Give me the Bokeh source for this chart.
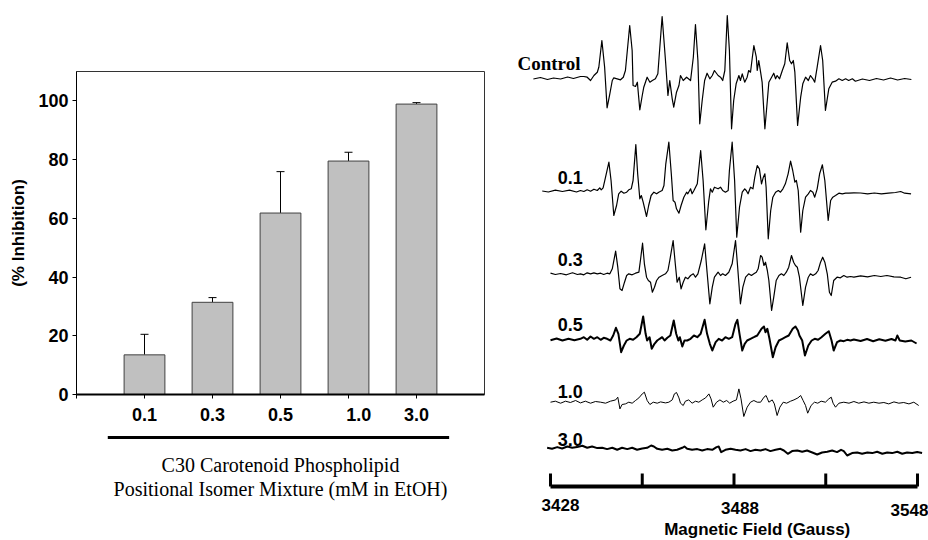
import numpy as np
from bokeh.plotting import figure
from bokeh.models import (ColumnDataSource, Range1d, FixedTicker, Whisker, TeeHead,
                          CustomJSTickFormatter)
from bokeh.layouts import row, column
from bokeh.core.properties import value
from bokeh.embed import file_html
from bokeh.resources import INLINE

# ---------------- data: bar chart ----------------
CONC_LABELS = ["0.1", "0.3", "0.5", "1.0", "3.0"]
INHIBITION = [13.5, 31.4, 61.8, 79.5, 98.9]
INHIBITION_SD = [7.0, 1.6, 14.1, 3.0, 0.5]
Y_TICKS = [0, 20, 40, 60, 80, 100]
X_TITLE = ["C30 Carotenoid Phospholipid", "Positional Isomer Mixture (mM in EtOH)"]

# ---------------- data: EPR spectra (field in Gauss, signal in arbitrary units) ----------------
SPEC_LABELS = ["Control", "0.1", "0.3", "0.5", "1.0", "3.0"]
FIELD_TICKS = [3428, 3458, 3488, 3518, 3548]
FIELD_TICK_LABELS = ["3428", "3488", "3548"]

CONTROL = [(3422.4,-0.5),(3424.7,1),(3427.0,-1),(3429.0,0.5),(3431.3,-0.5),(3433.6,1.5),(3435.5,0),
 (3437.8,2),(3438.9,2),(3440.0,1.3),(3441.1,-2),(3442.2,3),(3443.3,6.3),(3443.8,11.3),(3444.8,38),
 (3445.7,11.3),(3446.5,-29.3),(3447.4,-15.3),(3448.2,-2),(3448.7,0.7),(3449.8,-0.3),(3450.9,-1.3),
 (3451.8,1.3),(3452.5,8),(3453.9,53),(3454.7,28),(3455.0,-7),(3455.8,-8),(3456.4,-3.7),(3457.2,-31.3),
 (3458.0,-17),(3458.5,-8.7),(3459.6,1.3),(3460.5,-3.7),(3461.3,-2),(3462.3,-0.3),(3463.1,4.7),
 (3464.5,62),(3465.6,18),(3466.4,-17),(3467.0,-2),(3467.8,-20.3),(3468.3,-28.7),(3469.2,-13.7),
 (3470.0,-7),(3470.5,3),(3471.4,-2),(3472.5,1.3),(3473.8,-2),(3474.7,21.3),(3475.4,54),(3476.2,18),
 (3476.8,-45.3),(3477.6,-22),(3478.4,-2),(3479.2,5.3),(3480.1,-0.3),(3480.9,3),(3481.6,8),(3482.8,3),
 (3483.6,1.3),(3484.3,-2),(3485.0,8),(3485.8,63),(3486.5,28),(3487.2,-50.3),(3487.9,-22),(3488.7,-5.3),
 (3489.6,3),(3490.1,-2),(3490.7,4.7),(3491.5,-3.7),(3492.3,1.3),(3492.8,8),(3493.4,6.3),(3494.0,21.3),
 (3494.5,33),(3495.3,21.3),(3495.6,8),(3496.1,18),(3496.7,6.3),(3497.2,-3.7),(3498.1,-50.3),
 (3498.9,-22),(3499.4,-3.7),(3500.3,1.3),(3501.0,5.3),(3501.6,-0.3),(3502.1,3),(3502.9,-0.3),
 (3503.8,8),(3504.6,14.7),(3505.4,35.7),(3506.2,18),(3506.8,14.7),(3507.4,18),(3507.9,6.3),
 (3508.8,-47),(3509.8,-18.7),(3510.5,-5.3),(3511.4,1.3),(3512.3,-2),(3513.0,3),(3513.8,-0.3),
 (3514.4,-3.7),(3515.2,11.3),(3516.3,33),(3517.0,18),(3517.9,-32),(3519.0,-10.3),(3520.1,-3.7),
 (3521.2,-2.7),(3522.3,-0.3),(3523.4,-2),(3524.5,-0.3),(3525.5,-2),(3526.7,-0.3),(3527.7,-2.7),
 (3530.0,-0.5),(3532.3,-2),(3534.6,0),(3536.9,-1.5),(3539.2,0.5),(3541.5,-1.5),(3543.8,0),(3546.0,-1)]

SPEC_01 = [(3425.3,0.5),(3427.3,-0.5),(3429.6,1.3),(3431.9,0),(3434.2,1.3),(3436.5,-0.5),(3437.8,1),
 (3438.9,0),(3440.0,1.7),(3441.1,0.3),(3442.2,2.3),(3443.3,1),(3444.1,3.7),(3444.6,1.7),(3445.2,3.7),
 (3446.0,14.3),(3447.1,29.3),(3447.8,11),(3448.7,-24),(3449.6,-14),(3450.3,-2.3),(3451.1,0.3),
 (3452.0,-1.7),(3452.9,-0.7),(3453.6,1.7),(3454.4,2.7),(3455.0,11),(3455.9,47),(3456.5,17.7),
 (3457.2,-7.3),(3457.7,-4),(3458.3,-10.7),(3459.4,-25),(3460.1,-14),(3460.9,-4),(3461.8,-0.7),
 (3462.7,-2.3),(3463.4,-0.7),(3464.5,1),(3465.1,6),(3465.7,27.7),(3466.7,49.3),(3467.5,17.7),
 (3468.1,-9),(3468.7,-10.7),(3469.2,-17.3),(3470.0,-21.7),(3470.7,-14),(3471.6,-5.7),(3472.5,-0.7),
 (3472.9,-2.3),(3473.8,2.7),(3474.3,-2.3),(3474.9,1),(3476.0,7.7),(3477.1,41),(3477.9,11),
 (3478.8,-38.3),(3479.7,-10.7),(3480.3,2.7),(3480.9,-0.7),(3481.6,4.3),(3482.8,2.7),(3483.6,4.3),
 (3484.3,1),(3485.2,-0.7),(3486.1,1),(3486.5,21),(3487.4,49.3),(3488.2,11),(3488.9,-45.7),
 (3489.8,-15.7),(3490.7,-0.7),(3491.5,2.7),(3492.0,1),(3492.6,-2.3),(3493.4,4.3),(3494.2,2.7),
 (3494.8,14.3),(3495.6,26),(3496.3,22.7),(3497.0,7.7),(3497.6,14.3),(3498.1,17.7),(3498.5,4.3),
 (3499.2,-47.3),(3500.0,-19),(3500.7,-5.7),(3501.6,-0.7),(3502.5,1),(3503.2,-0.7),(3504.0,2.7),
 (3504.8,7.7),(3505.7,17.7),(3506.5,30.3),(3507.2,21),(3507.9,9.3),(3508.4,11),(3509.0,1),
 (3509.8,-40.7),(3510.5,-19),(3511.4,-5.7),(3512.3,-2.3),(3513.0,1),(3513.8,-0.7),(3514.4,-5.7),
 (3515.2,2.7),(3516.0,17.7),(3516.9,26.7),(3517.7,11),(3518.8,-29),(3519.6,-9),(3520.3,-5.7),
 (3521.2,-4),(3522.3,-1.7),(3523.4,-2.3),(3524.5,-1.7),(3525.5,-1.7),(3527.2,-1.3),(3529.4,-1.5),
 (3531.7,-2.3),(3533.9,-1.5),(3536.2,-2.3),(3538.5,-1.7),(3540.8,-1),(3542.5,0),(3543.8,-1.7),
 (3545.9,-2.3)]

SPEC_03 = [(3428.0,0.7),(3429.6,-0.7),(3431.3,0.3),(3433.2,-1),(3435.2,1),(3436.8,-0.7),(3437.8,0),
 (3438.9,-1),(3440.0,1),(3441.1,0),(3442.2,1),(3443.3,0),(3444.4,0.6),(3445.4,-0.7),(3446.5,0.6),
 (3447.4,0),(3448.2,5),(3449.3,22.6),(3450.0,6.6),(3450.7,-15),(3451.4,-16.7),(3452.2,-8.4),
 (3452.9,-1.7),(3453.6,0),(3454.7,-1),(3455.8,0.6),(3456.9,1.6),(3457.4,13.3),(3458.1,30.6),
 (3458.7,10),(3459.4,-3.4),(3460.0,-6.7),(3460.7,-8.4),(3461.3,-18.4),(3462.0,-13.4),(3462.7,-6.7),
 (3463.5,-3.4),(3464.5,-1.7),(3465.6,0),(3466.4,3.3),(3467.0,13.3),(3468.1,33.3),(3468.8,10),
 (3469.4,-8.4),(3470.1,-3.4),(3470.7,-15),(3471.4,-8.4),(3472.1,-3.4),(3472.9,-5),(3473.8,-1.7),
 (3474.7,0),(3475.4,-3.4),(3476.2,0),(3477.3,13.3),(3478.4,30),(3479.2,1.6),(3480.1,-30),
 (3480.9,-13.4),(3481.6,-3.4),(3482.8,1.6),(3483.6,-1.7),(3484.3,0),(3485.2,-1.7),(3486.3,1.6),
 (3487.4,10),(3488.5,33.3),(3489.2,6.6),(3490.1,-30),(3490.9,-13.4),(3491.8,-3.4),(3492.8,0),
 (3493.7,-1.7),(3494.5,0),(3495.3,1.6),(3495.9,5),(3496.7,18.3),(3497.2,16.6),(3497.8,8.3),
 (3498.3,11.6),(3498.9,3.3),(3499.4,-6.7),(3500.3,-36.7),(3501.0,-23.4),(3501.8,-6.7),(3502.7,-1.7),
 (3503.5,0),(3504.3,-1.7),(3505.1,1.6),(3505.9,6.6),(3506.8,18.3),(3507.5,11.6),(3508.1,8.3),
 (3508.7,6.6),(3509.4,-3.4),(3510.5,-31.7),(3511.4,-13.4),(3512.3,-3.4),(3513.0,0),(3513.8,-1.7),
 (3514.7,0),(3515.5,3.3),(3516.3,11.6),(3517.0,16.6),(3517.7,11.6),(3518.5,0),(3519.2,-18.4),
 (3519.8,-21.7),(3520.6,-6.7),(3521.7,-3.4),(3522.8,-4),(3523.9,-1.7),(3525.0,-3.4),(3526.1,-2.7),
 (3527.2,-3.4),(3529.4,-2),(3531.7,-3),(3533.9,-1.7),(3536.0,-2.7),(3538.0,-1.7),(3540.3,-3),
 (3542.5,-3.4),(3544.2,-5),(3545.9,-3.4)]

SPEC_05 = [(3428.0,-0.7),(3430.0,1),(3431.9,-1),(3433.9,0.7),(3435.8,-0.7),(3437.8,0.7),(3438.9,2.3),
 (3440.0,-0.3),(3441.1,3),(3442.2,0.7),(3443.3,2.3),(3444.4,-0.3),(3445.4,1.7),(3446.5,0.7),
 (3447.6,-1),(3448.5,4),(3449.4,11.7),(3450.2,5.7),(3451.1,-12.7),(3452.0,-6),(3452.9,-1),
 (3453.9,0.7),(3455.0,-0.3),(3456.1,2.3),(3457.2,5.7),(3458.3,23),(3459.1,5.7),(3459.6,-1),
 (3460.4,2.3),(3461.1,-9.3),(3462.0,-4.3),(3462.9,-1),(3463.7,0.7),(3464.5,2.3),(3465.3,-1),
 (3466.2,1.7),(3467.2,4),(3468.3,19),(3469.1,5.7),(3469.8,-1),(3470.3,2.3),(3471.1,-7),(3471.8,-1),
 (3472.7,-1),(3473.8,0.7),(3474.9,4),(3476.0,2.3),(3477.1,5.7),(3478.4,19.7),(3479.2,5.7),
 (3480.1,-4.3),(3480.9,-11),(3482.0,-2.7),(3483.0,0.7),(3484.1,-1),(3485.2,2.3),(3486.3,0.7),
 (3487.4,2.3),(3488.5,15.7),(3489.1,19.7),(3489.8,5.7),(3490.7,-11),(3491.5,-4.3),(3492.3,-1),
 (3493.4,0.7),(3494.5,2.3),(3495.6,4),(3497.0,10.7),(3497.8,13),(3498.3,7.3),(3498.9,10.7),
 (3499.6,0.7),(3500.7,-17.7),(3501.6,-7.7),(3502.7,-1),(3503.8,0.7),(3504.8,2.3),(3505.9,4),
 (3507.2,10.7),(3508.1,13),(3508.9,9),(3509.4,4),(3510.3,-1),(3511.2,-16),(3512.3,-6),(3513.4,-1),
 (3514.4,0.7),(3515.5,-0.3),(3516.6,2.3),(3517.9,5.7),(3519.0,8.3),(3519.9,-1),(3520.6,-11),
 (3521.7,-2.7),(3522.8,-1),(3523.9,-1.7),(3525.0,-0.3),(3526.1,-1),(3527.2,0),(3529.4,-1.5),
 (3531.5,0.5),(3533.5,-1.7),(3535.5,0.3),(3537.5,-1.3),(3539.5,0.5),(3540.8,-1),(3541.4,4),
 (3542.2,-1),(3544.0,-2),(3546.0,-1),(3547.7,-4)]

SPEC_10 = [(3428.0,0),(3429.6,1),(3431.3,-1),(3432.9,1),(3434.5,-0.3),(3436.2,1.7),(3437.8,-0.7),
 (3439.4,1),(3441.1,-1),(3442.7,0.7),(3444.4,0),(3446.0,-1),(3447.6,1),(3449.3,2.3),(3450.0,5),
 (3450.7,-6.7),(3451.4,-2.3),(3452.5,-1.7),(3453.6,0),(3454.7,-1),(3455.8,1.7),(3456.9,4.3),
 (3458.0,8.3),(3458.7,10),(3459.6,1.7),(3460.5,-2.3),(3461.6,0),(3462.9,-1),(3464.0,0.3),
 (3465.6,-0.7),(3466.7,0),(3467.8,2.3),(3468.5,8.3),(3469.2,9.7),(3470.0,4.3),(3470.5,-1),
 (3471.4,-3.3),(3472.1,1),(3473.2,2.3),(3474.3,-1),(3475.4,1),(3476.5,0),(3477.6,2.3),(3478.7,4.3),
 (3479.8,8.3),(3480.5,3.3),(3481.2,-5),(3482.3,0),(3483.4,2.3),(3484.5,0),(3485.6,1.7),(3486.6,-1),
 (3487.7,1),(3488.8,2.3),(3489.6,13.3),(3490.3,3.3),(3491.2,-14.3),(3492.3,-5),(3493.4,0),
 (3494.5,1.7),(3495.6,0),(3496.7,0),(3497.8,5),(3498.5,6.7),(3499.4,0),(3500.5,2.3),(3501.2,-1.7),
 (3502.1,-13.3),(3503.0,-5),(3504.1,0),(3505.2,-1),(3506.5,1),(3507.6,2.3),(3508.9,4.3),(3509.8,6.7),
 (3510.6,1.7),(3511.4,-3.3),(3512.1,-11),(3513.2,-3.3),(3514.3,0),(3515.4,-1),(3516.5,1),(3517.9,0),
 (3519.0,3.3),(3519.8,5),(3520.4,-1),(3521.2,-5),(3522.3,-1),(3523.9,0),(3525.6,-1),(3527.2,0.7),
 (3528.8,-1),(3530.5,0.3),(3532.1,-1),(3533.7,0),(3535.4,-1),(3537.0,-0.3),(3538.6,-1.7),
 (3540.3,0.3),(3541.9,-1),(3543.5,-0.3),(3545.2,-1.7),(3546.8,0),(3548.4,-3.3)]

SPEC_30 = [(3426.9,0),(3428.5,-1),(3430.2,0.7),(3431.8,-0.7),(3433.5,1.3),(3435.1,0),(3436.7,0.7),
 (3438.4,2),(3440.0,0),(3441.6,1.3),(3443.3,-0.3),(3444.9,0),(3446.5,-1.3),(3448.2,0),(3449.8,-2),
 (3451.4,0),(3453.1,-1.3),(3454.7,0),(3456.3,-2),(3458.0,-0.7),(3459.6,0),(3460.9,2.3),(3461.8,1.3),
 (3462.9,-1),(3464.5,-2),(3466.2,-1),(3467.8,-2.7),(3469.4,-2),(3471.1,0),(3471.8,1.3),(3472.7,-1),
 (3474.3,-2),(3476.0,-1.3),(3477.6,-2.7),(3479.2,-1.3),(3480.9,-2),(3482.3,0.7),(3483.0,1.3),
 (3483.8,-4.3),(3485.2,-2),(3486.9,-1),(3488.5,-2),(3490.1,-2.7),(3491.8,-1.3),(3493.4,-3.3),
 (3495.0,-2),(3496.7,-2.7),(3498.3,-1.3),(3499.9,-3.3),(3501.6,-2),(3503.2,-1),(3504.3,-2.7),
 (3505.6,-6),(3507.0,-3.3),(3508.7,-2.7),(3510.3,-4),(3511.9,-2.7),(3513.6,-4.7),(3515.2,-6.7),
 (3516.8,-4.7),(3518.5,-4),(3520.1,-2.7),(3521.7,-4.3),(3523.0,-2),(3523.9,-3.3),(3525.0,-7.7),
 (3526.6,-5.3),(3528.3,-4.7),(3529.9,-6),(3531.6,-4.7),(3533.2,-5.3),(3534.8,-4),(3536.5,-6),
 (3538.1,-4.7),(3539.7,-5.3),(3541.4,-4),(3543.0,-6),(3544.6,-4.7),(3546.3,-5.3),(3547.9,-4.3),
 (3549.5,-5.3)]

SPECTRA = [CONTROL, SPEC_01, SPEC_03, SPEC_05, SPEC_10, SPEC_30]

# ---------------- layout / style constants ----------------
SANS = "Liberation Sans"
SERIF = "Liberation Serif"
BASELINES = [462, 349, 266.7, 201, 138.3, 92.7]
LINE_WIDTHS = [1.2, 1.2, 1.2, 2.0, 1.0, 2.0]
LABEL_Y = [477, 363, 281, 216, 149, 101.4]


def no_grid(fig):
    for g in fig.grid:
        g.visible = False


# ================= left: bar chart =================
xpos = list(range(1, len(CONC_LABELS) + 1))
src = ColumnDataSource(dict(
    x=xpos, mean=INHIBITION,
    upper=[m + s for m, s in zip(INHIBITION, INHIBITION_SD)],
))

p = figure(width=500, height=428, x_range=Range1d(0, 6), y_range=Range1d(0, 110),
           output_backend="svg", toolbar_location=None,
           min_border_left=76, min_border_right=16, min_border_top=71, min_border_bottom=34)
no_grid(p)
p.outline_line_color = "#333333"
p.outline_line_width = 1

p.vbar(x="x", top="mean", width=0.6, source=src,
       fill_color="#c0c0c0", line_color="#404040", line_width=1)
p.add_layout(Whisker(base="x", upper="upper", lower="mean", source=src,
                     line_color="black", line_width=1, lower_head=None,
                     upper_head=TeeHead(size=8, line_color="black", line_width=1)))

# x axis: label positions (the "1.0" label sits a little right of its bar), ticks at bars
label_pos = [1, 2, 3, 4.15, 5]
xa = p.xaxis[0]
xa.ticker = FixedTicker(ticks=label_pos, minor_ticks=[0, 1, 2, 3, 4, 5])
xa.formatter = CustomJSTickFormatter(args=dict(labels=CONC_LABELS), code="return labels[index];")
xa.major_tick_out = 0
xa.major_tick_in = 0
xa.minor_tick_out = 4
xa.minor_tick_in = 0
xa.minor_tick_line_color = "black"
xa.axis_line_width = 2
xa.axis_line_color = "black"
xa.major_label_standoff = 9
xa.major_label_text_font = SANS
xa.major_label_text_font_style = "bold"
xa.major_label_text_font_size = "18px"
xa.major_label_text_color = "black"

ya = p.yaxis[0]
ya.ticker = FixedTicker(ticks=Y_TICKS)
ya.minor_tick_out = 0
ya.minor_tick_in = 0
ya.major_tick_out = 4
ya.major_tick_in = 0
ya.axis_line_color = "black"
ya.major_label_standoff = 4
ya.major_label_text_font = SANS
ya.major_label_text_font_style = "bold"
ya.major_label_text_font_size = "18px"
ya.major_label_text_color = "black"
ya.axis_label = "(% Inhibition)"
ya.axis_label_text_font = SANS
ya.axis_label_text_font_style = "bold"
ya.axis_label_text_font_size = "17px"
ya.axis_label_text_color = "black"
ya.axis_label_standoff = 7

# below the bar chart: thick rule + serif title (shares the bar chart's x scale)
lf = figure(width=500, height=112, x_range=p.x_range, y_range=Range1d(0, 112),
            output_backend="svg", toolbar_location=None,
            x_axis_location=None, y_axis_location=None,
            min_border=0, min_border_left=76, min_border_right=16)
no_grid(lf)
lf.outline_line_color = None
lf.segment(x0=[0.46], y0=[103], x1=[5.48], y1=[103], line_width=3, line_color="black")
lf.text(x=[3, 3], y=[76, 52], text=X_TITLE, text_align="center", text_baseline="middle",
        text_font=value(SERIF), text_font_size="20px", text_color="black")

# ================= right: EPR spectra =================
rf = figure(width=428, height=540, x_range=Range1d(3411.65, 3551.6), y_range=Range1d(0, 540),
            output_backend="svg", toolbar_location=None,
            x_axis_location=None, y_axis_location=None, min_border=0)
no_grid(rf)
rf.outline_line_color = None

for spec, base, lw in zip(SPECTRA, BASELINES, LINE_WIDTHS):
    fld = np.array([a for a, b in spec])
    sig = np.array([b for a, b in spec])
    rf.line(fld, base + sig, line_color="black", line_width=lw, line_join="round")

# spectrum labels
rf.text(x=[3417.2], y=[LABEL_Y[0]], text=[SPEC_LABELS[0]], text_align="left",
        text_baseline="middle", text_font=value(SERIF), text_font_style="bold",
        text_font_size="19px", text_color="black")
rf.text(x=[3430.4] * 5, y=LABEL_Y[1:], text=SPEC_LABELS[1:], text_align="left",
        text_baseline="middle", text_font=value(SANS), text_font_style="bold",
        text_font_size="18px", text_color="black")

# field scale bar
rf.segment(x0=[FIELD_TICKS[0]], y0=[54], x1=[FIELD_TICKS[-1]], y1=[54],
           line_width=4, line_color="black", line_cap="butt")
rf.segment(x0=FIELD_TICKS, y0=[54] * 5, x1=FIELD_TICKS, y1=[67] * 5,
           line_width=3, line_color="black", line_cap="butt")
lab_src = ColumnDataSource(dict(
    x=[FIELD_TICKS[0], FIELD_TICKS[2], FIELD_TICKS[4]], y=[36, 32.5, 30.5],
    dx=[10, 6, -8], t=FIELD_TICK_LABELS))
rf.text(x="x", y="y", text="t", x_offset="dx", source=lab_src, text_align="center",
        text_baseline="middle", text_font=value(SANS), text_font_style="bold",
        text_font_size="17px", text_color="black")
rf.text(x=[3495.6], y=[11], text=["Magnetic Field (Gauss)"], text_align="center",
        text_baseline="middle", text_font=value(SANS), text_font_style="bold",
        text_font_size="17px", text_color="black")

layout = row(column(p, lf), rf)
open("out.html", "w").write(file_html(layout, INLINE))
